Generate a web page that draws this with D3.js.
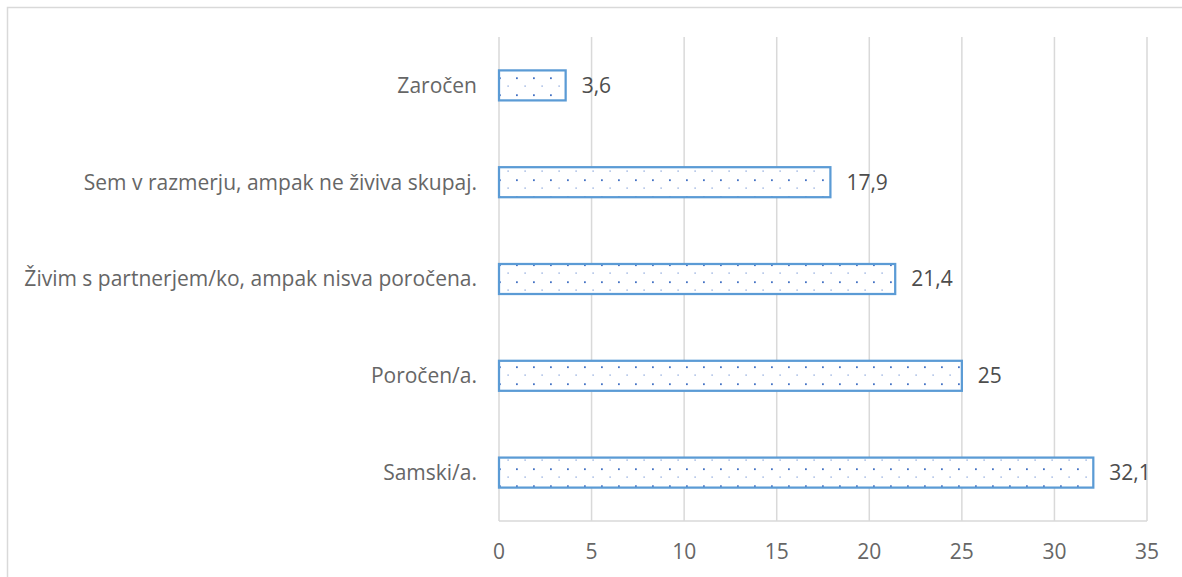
<!DOCTYPE html>
<html>
<head>
<meta charset="utf-8">
<script src="https://cdn.jsdelivr.net/npm/d3@7"></script>
<style>
  body { margin: 0; background: #fff; }
  svg { display: block; font-family: "Open Sans", "Noto Sans", sans-serif; }
</style>
</head>
<body>
<svg id="chart" width="1182" height="577"></svg>
<script>
// Podatki (od zgoraj navzdol)
const categories = [
  "Zaročen",
  "Sem v razmerju, ampak ne živiva skupaj.",
  "Živim s partnerjem/ko, ampak nisva poročena.",
  "Poročen/a.",
  "Samski/a."
];
const values = [3.6, 17.9, 21.4, 25, 32.1];
const xTicks = [0, 5, 10, 15, 20, 25, 30, 35];

const svg = d3.select("#chart");

// okvir grafikona
svg.append("rect")
  .attr("x", 7.5).attr("y", 7.5)
  .attr("width", 1200).attr("height", 600)
  .attr("fill", "none")
  .attr("stroke", "#d9d9d9")
  .attr("stroke-width", 1.5);

const plotLeft = 499, plotRight = 1147, plotTop = 37, plotBottom = 521;

const x = d3.scaleLinear().domain([0, 35]).range([plotLeft, plotRight]);
const y = d3.scaleBand().domain(categories).range([plotTop, plotBottom]).paddingInner(0.69).paddingOuter(0.345);

// vzorec s pikami
const defs = svg.append("defs");
const pat = defs.append("pattern")
  .attr("id", "dots")
  .attr("patternUnits", "userSpaceOnUse")
  .attr("width", 17).attr("height", 17);
pat.append("rect").attr("width", 17).attr("height", 17).attr("fill", "#fff");
pat.append("rect").attr("x", 14.5).attr("y", 0.5).attr("width", 1.2).attr("height", 1.2).attr("fill", "#7496d6");
pat.append("rect").attr("x", 6).attr("y", 9.3).attr("width", 1.8).attr("height", 1.8).attr("fill", "#4472c4");

// mreža
svg.append("g")
  .selectAll("line")
  .data(xTicks)
  .join("line")
  .attr("x1", d => x(d)).attr("x2", d => x(d))
  .attr("y1", plotTop).attr("y2", plotBottom)
  .attr("stroke", "#d9d9d9")
  .attr("stroke-width", 1.5);

// spodnja os
svg.append("line")
  .attr("x1", plotLeft).attr("x2", plotRight)
  .attr("y1", plotBottom).attr("y2", plotBottom)
  .attr("stroke", "#d9d9d9")
  .attr("stroke-width", 1.5);

svg.append("g")
  .selectAll("text")
  .data(xTicks)
  .join("text")
  .attr("x", d => x(d))
  .attr("y", 559)
  .attr("text-anchor", "middle")
  .attr("font-size", 21)
  .attr("fill", "#666")
  .text(d => d);

// stolpci
svg.append("g")
  .selectAll("rect")
  .data(values)
  .join("rect")
  .attr("x", x(0))
  .attr("y", (d, i) => y(categories[i]))
  .attr("width", d => x(d) - x(0))
  .attr("height", y.bandwidth())
  .attr("fill", "url(#dots)")
  .attr("stroke", "#5b9bd5")
  .attr("stroke-width", 2.25);

// oznake kategorij
svg.append("g")
  .selectAll("text")
  .data(categories)
  .join("text")
  .attr("x", 477)
  .attr("y", d => y(d) + y.bandwidth() / 2)
  .attr("dy", "0.35em")
  .attr("text-anchor", "end")
  .attr("font-size", 21)
  .attr("fill", "#666")
  .text(d => d);

// vrednosti
svg.append("g")
  .selectAll("text")
  .data(values)
  .join("text")
  .attr("x", d => x(d) + 16)
  .attr("y", (d, i) => y(categories[i]) + y.bandwidth() / 2)
  .attr("dy", "0.35em")
  .attr("font-size", 21)
  .attr("fill", "#4d4d4d")
  .text(d => String(d).replace(".", ","));
</script>
</body>
</html>
